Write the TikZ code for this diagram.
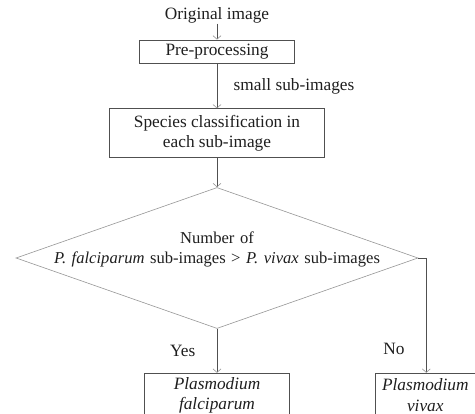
\documentclass[tikz,border=0pt]{standalone}
\usepackage{fontspec}
\setmainfont{Liberation Serif}
\usetikzlibrary{positioning, arrows.meta, shapes.geometric}
\definecolor{LineColor}{RGB}{80,80,80}
\definecolor{EdgeColor}{RGB}{150,150,150}
\definecolor{TextColor}{RGB}{30,30,30}

\begin{document}
\begin{tikzpicture}[x=1pt, y=1pt, node distance=20pt,
    font=\fontsize{17.3}{20.5}\selectfont, text=TextColor,
    stepbox/.style={draw=LineColor, line width=0.8pt, align=center, inner sep=0pt},
    flow/.style={draw=LineColor, line width=0.8pt, -{Straight Barb[length=3.5pt, width=8pt, line width=0.6pt, color=EdgeColor]}}]
  \useasboundingbox (0,0) rectangle (475,-414);

  \node[stepbox, minimum width=155pt, minimum height=23pt] (pre) at (217,-51.5) {Pre-processing};
  \node[inner sep=0pt, above=16pt of pre] (orig) {Original image};
  \node[stepbox, minimum width=215pt, minimum height=49pt, below=45pt of pre] (spec) {Species classification in\\each sub-image};
  \node[diamond, draw=EdgeColor, line width=0.6pt, aspect=2.85, align=center,
        text width=340pt, text height=12pt, text depth=40pt, inner sep=-20pt,
        font=\fontsize{16.6}{20}\selectfont,
        minimum width=402pt, minimum height=141pt, below=29pt of spec] (dec)
        {Number of\\\textit{P. falciparum} sub-images > \textit{P. vivax} sub-images};
  \node[stepbox, minimum width=145pt, minimum height=44pt, below=44pt of dec] (falc) {\textit{Plasmodium}\\\textit{falciparum}};
  \node[stepbox, minimum width=100pt, minimum height=44pt, right=85pt of falc] (viv) {\textit{Plasmodium}\\\textit{vivax}};

  \draw[flow] (orig) -- (pre);
  \draw[flow] (pre) -- node[midway, right=13pt] {small sub-images} (spec);
  \draw[flow] (spec) -- (dec);
  \draw[flow] (dec.south) -- node[midway, left=18pt] {Yes} (falc);
  \draw[draw=LineColor, line width=0.8pt] (dec.east) -- ++(8pt,0) coordinate (turn);
  \draw[flow] (turn) -- node[pos=0.79, left=18pt] {No} (turn |- viv.north);
\end{tikzpicture}
\end{document}
